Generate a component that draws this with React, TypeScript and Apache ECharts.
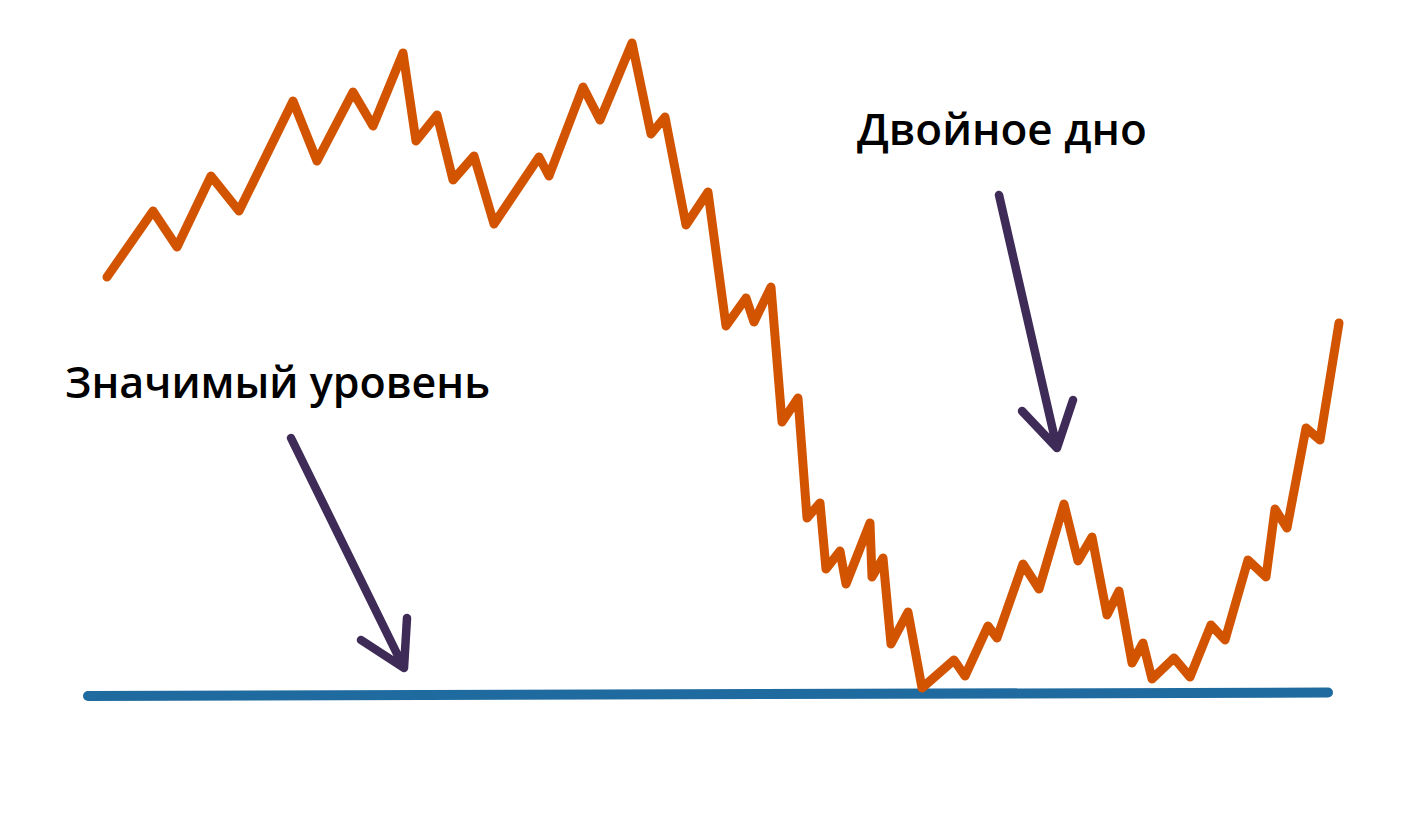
import React, { useEffect, useRef } from "react";
import * as echarts from "echarts";

// Time (arbitrary units) and price (units above the support level)
const priceTime = [107,153,177,211,239,293,317,353,373,403,416,437,453,474,494,539,549,583,600,632,651,665,686,708,726,746,754,771,782,798,807,820,826,840,846,870,872,883,891,908,922,954,965,988,997,1023,1039,1064,1078,1092,1107,1119,1132,1143,1152,1174,1190,1211,1225,1248,1266,1275,1287,1306,1320,1339];
const priceValue = [417,483,447,518,483,593,533,602,568,641,553,579,514,538,470,537,518,607,574,651,560,577,469,502,368,396,372,407,272,296,176,191,125,143,110,171,117,136,50,82,6,34,18,68,56,130,105,190,133,157,79,103,31,51,15,36,17,69,54,134,117,185,166,266,254,371];

const levelTime = [88, 1328];
const levelValue = [-2, 1.5];

// arrows: start, tip, head-left, tip, head-right
const arrow1Time = [291, 404, 361, 404, 407];
const arrow1Value = [256, 26, 54, 26, 76];
const arrow2Time = [999, 1057, 1022, 1057, 1073];
const arrow2Value = [499, 246, 283, 246, 294];

const labels = ["Двойное дно", "Значимый уровень"];

const ORANGE = "#D35400";
const BLUE = "#1F6A9E";
const PURPLE = "#3F2B57";

const zip = (a: number[], b: number[]) => a.map((t, i) => [t, b[i]]);

export default function App() {
  const ref = useRef<HTMLDivElement>(null);
  useEffect(() => {
    const chart = echarts.init(ref.current!, null, { renderer: "svg" });
    const lineS = (data: number[][], color: string, width: number, z: number) => ({
      type: "line",
      data,
      showSymbol: false,
      symbol: "none",
      z,
      lineStyle: { color, width, cap: "round", join: "round" },
      silent: true,
    });
    chart.setOption({
      animation: false,
      backgroundColor: "#ffffff",
      grid: { left: 0, right: 0, top: 0, bottom: 0 },
      xAxis: { type: "value", min: 0, max: 1425, show: false },
      yAxis: { type: "value", min: -139, max: 694, show: false },
      series: [
        lineS(zip(levelTime, levelValue), BLUE, 10, 2),
        lineS(zip(priceTime, priceValue), ORANGE, 9, 3),
        lineS(zip(arrow1Time, arrow1Value), PURPLE, 8.5, 4),
        lineS(zip(arrow2Time, arrow2Value), PURPLE, 8.5, 4),
      ],
      graphic: [
        {
          type: "text",
          left: 857,
          top: 106,
          style: {
            text: labels[0],
            fill: "#000",
            font: '600 44px "Open Sans", sans-serif',
          },
        },
        {
          type: "text",
          left: 65,
          top: 360,
          style: {
            text: labels[1],
            fill: "#000",
            font: '600 43px "Open Sans", sans-serif',
          },
        },
      ],
    });
    return () => chart.dispose();
  }, []);
  return (
    <div
      ref={ref}
      style={{ position: "fixed", left: 0, top: 0, width: 1425, height: 833, background: "#fff" }}
    />
  );
}
